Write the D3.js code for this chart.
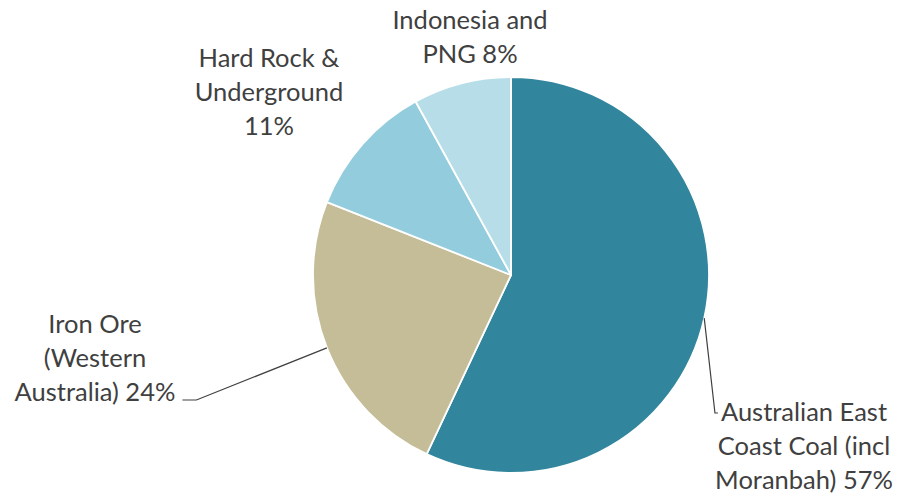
<!DOCTYPE html>
<html>
<head>
<meta charset="utf-8">
<script src="https://cdn.jsdelivr.net/npm/d3@7"></script>
<style>
  html, body { margin: 0; padding: 0; background: #fff; }
  svg { display: block; }
  .lbl { font-family: Lato, "Open Sans", sans-serif; fill: #404040; }
</style>
</head>
<body>
<svg id="chart" width="899" height="494"></svg>
<script>
// Revenue share by business segment
const segments = [
  "Australian East Coast Coal (incl Moranbah)",
  "Iron Ore (Western Australia)",
  "Hard Rock & Underground",
  "Indonesia and PNG"
];
const shares = [57, 24, 11, 8];
const colors = ["#31859C", "#C4BD97", "#93CDDD", "#B7DEE8"];
// label text broken into lines as shown
const labelLines = [
  ["Australian East", "Coast Coal (incl", "Moranbah) 57%"],
  ["Iron Ore", "(Western", "Australia) 24%"],
  ["Hard Rock &", "Underground", "11%"],
  ["Indonesia and", "PNG 8%"]
];

const W = 899, H = 494;
const cx = 511, cy = 275, R = 198;
const fontSize = 25.5, lineH = 34;

// label block anchors: centre x and first baseline y
const labelPos = [
  { x: 804, y: 421 },
  { x: 95,  y: 333 },
  { x: 269, y: 67 },
  { x: 470, y: 29 }
];

const svg = d3.select("#chart");
const g = svg.append("g").attr("transform", `translate(${cx},${cy})`);

const data = segments.map((name, i) => ({ name, value: shares[i], i }));
const pie = d3.pie().value(d => d.value).sort(null);
const arcs = pie(data);
const arc = d3.arc().innerRadius(0).outerRadius(R);

g.selectAll("path.slice")
  .data(arcs)
  .join("path")
  .attr("class", "slice")
  .attr("d", arc)
  .attr("fill", d => colors[d.data.i])
  .attr("stroke", "#fff")
  .attr("stroke-width", 1.8)
  .attr("stroke-linejoin", "round");

// point on the rim at a slice's middle angle
function rimPoint(a) {
  const mid = (a.startAngle + a.endAngle) / 2;
  return [cx + R * Math.sin(mid), cy - R * Math.cos(mid)];
}

// labels
const tspans = labelLines.map((lines, i) => {
  const t = svg.append("text")
    .attr("class", "lbl")
    .attr("font-size", fontSize)
    .attr("text-anchor", "middle");
  return lines.map((ln, k) => t.append("tspan")
      .attr("x", labelPos[i].x)
      .attr("y", labelPos[i].y + k * lineH)
      .text(ln));
});

// leader lines
const line = d3.line();
// coal: rim -> left of first label line
{
  const p = rimPoint(arcs[0]);
  const w = tspans[0][0].node().getComputedTextLength();
  const y = labelPos[0].y - 8;
  const x = labelPos[0].x - w / 2 - 6;
  svg.append("path")
    .attr("d", line([p, [x, y], [x + 3, y]]))
    .attr("fill", "none").attr("stroke", "#404040").attr("stroke-width", 1.2);
}
// iron ore: end of last label line -> rim
{
  const p = rimPoint(arcs[1]);
  const w = tspans[1][2].node().getComputedTextLength();
  const y = labelPos[1].y + 2 * lineH - 1;
  const x0 = labelPos[1].x + w / 2 + 7;
  svg.append("path")
    .attr("d", line([[x0, y], [x0 + 14, y], p]))
    .attr("fill", "none").attr("stroke", "#404040").attr("stroke-width", 1.2);
}
</script>
</body>
</html>
